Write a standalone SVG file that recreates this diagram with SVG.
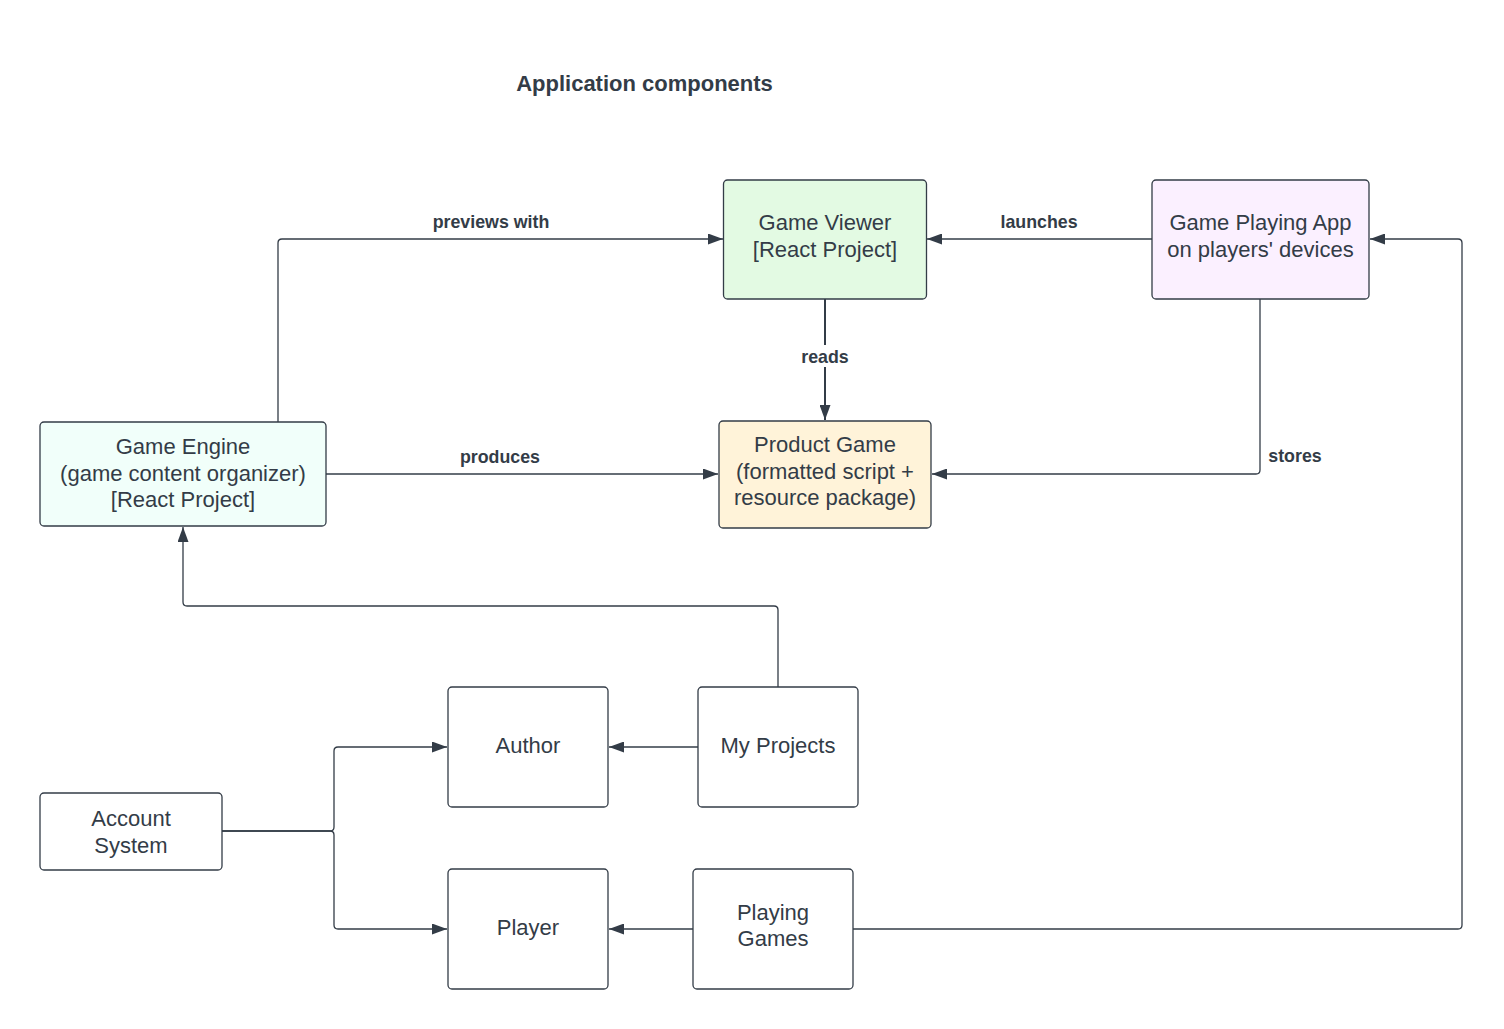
<svg xmlns="http://www.w3.org/2000/svg" width="1504" height="1029" viewBox="0 0 1504 1029">
<defs>
<marker id="ah" viewBox="0 0 15 11" refX="15" refY="5.5" markerWidth="15" markerHeight="11" markerUnits="userSpaceOnUse" orient="auto">
<path d="M0,0 L15,5.5 L0,11 Z" fill="#333c47"/>
</marker>
<style>
.n{stroke:#333c47;stroke-width:1.3}
.t{font-family:"Liberation Sans",Arial,sans-serif;font-size:22px;fill:#333c47;text-anchor:middle}
.l{font-family:"Liberation Sans",Arial,sans-serif;font-size:17.8px;font-weight:bold;fill:#333c47;text-anchor:middle}
.c{fill:none;stroke:#333c47;stroke-width:1.3}
</style>
</defs>
<rect width="1504" height="1029" fill="#ffffff"/>
<text x="644.5" y="91" class="l" style="font-size:22px">Application components</text>
<g id="connectors">
<path class="c" d="M278,422 V243 Q278,239 282,239 H723" marker-end="url(#ah)"/>
<path class="c" d="M1152,239 H927" marker-end="url(#ah)"/>
<path class="c" d="M825,299 V420" style="stroke-width:2" marker-end="url(#ah)"/>
<path class="c" d="M326,474 H718" marker-end="url(#ah)"/>
<path class="c" d="M1260,299 V470 Q1260,474 1256,474 H932" marker-end="url(#ah)"/>
<path class="c" d="M778,687 V610 Q778,606 774,606 H187 Q183,606 183,602 V527" marker-end="url(#ah)"/>
<path class="c" d="M698,747 H609" marker-end="url(#ah)"/>
<path class="c" d="M222,831 H330 Q334,831 334,827 V751 Q334,747 338,747 H447" marker-end="url(#ah)"/>
<path class="c" d="M222,831 H330 Q334,831 334,835 V925 Q334,929 338,929 H447" marker-end="url(#ah)"/>
<path class="c" d="M693,929 H609" marker-end="url(#ah)"/>
<path class="c" d="M853,929 H1458 Q1462,929 1462,925 V243 Q1462,239 1458,239 H1370" marker-end="url(#ah)"/>
<text x="491" y="228" class="l">previews with</text>
<text x="1039" y="228" class="l">launches</text>
<rect x="796" y="345" width="58" height="22" fill="#ffffff"/>
<text x="825" y="363" class="l">reads</text>
<text x="500" y="463" class="l">produces</text>
<text x="1295" y="462" class="l">stores</text>
</g>
<g id="game-viewer">
<rect x="723.5" y="180" width="203" height="119" rx="4" fill="#e3fae3" class="n"/>
<text x="825" y="230" class="t">Game Viewer</text>
<text x="825" y="257" class="t">[React Project]</text>
</g>
<g id="game-playing-app">
<rect x="1152" y="180" width="217" height="119" rx="4" fill="#fbf0ff" class="n"/>
<text x="1260.5" y="230" class="t">Game Playing App</text>
<text x="1260.5" y="257" class="t">on players' devices</text>
</g>
<g id="game-engine">
<rect x="40" y="422" width="286" height="104" rx="4" fill="#f1fffa" class="n"/>
<text x="183" y="454" class="t">Game Engine</text>
<text x="183" y="481" class="t">(game content organizer)</text>
<text x="183" y="507" class="t">[React Project]</text>
</g>
<g id="product-game">
<rect x="719" y="421" width="212" height="107" rx="4" fill="#fff3d9" class="n"/>
<text x="825" y="452" class="t">Product Game</text>
<text x="825" y="479" class="t">(formatted script +</text>
<text x="825" y="505" class="t">resource package)</text>
</g>
<g id="author">
<rect x="448" y="687" width="160" height="120" rx="4" fill="#ffffff" class="n"/>
<text x="528" y="753" class="t">Author</text>
</g>
<g id="my-projects">
<rect x="698" y="687" width="160" height="120" rx="4" fill="#ffffff" class="n"/>
<text x="778" y="753" class="t">My Projects</text>
</g>
<g id="account-system">
<rect x="40" y="793" width="182" height="77" rx="4" fill="#ffffff" class="n"/>
<text x="131" y="826" class="t">Account</text>
<text x="131" y="853" class="t">System</text>
</g>
<g id="player">
<rect x="448" y="869" width="160" height="120" rx="4" fill="#ffffff" class="n"/>
<text x="528" y="935" class="t">Player</text>
</g>
<g id="playing-games">
<rect x="693" y="869" width="160" height="120" rx="4" fill="#ffffff" class="n"/>
<text x="773" y="920" class="t">Playing</text>
<text x="773" y="946" class="t">Games</text>
</g>
</svg>
